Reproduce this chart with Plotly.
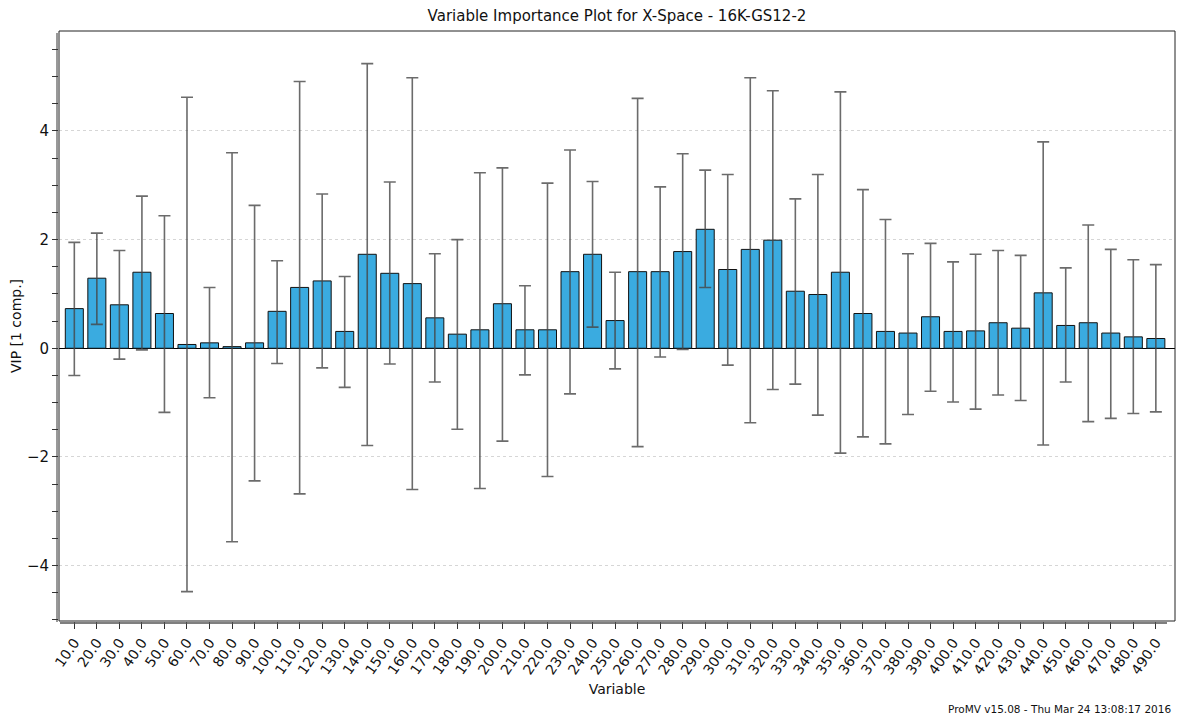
import plotly.graph_objects as go

variables = ["%d.0" % v for v in range(10, 500, 10)]
vip = [0.73, 1.29, 0.80, 1.40, 0.64, 0.07, 0.10, 0.03, 0.10, 0.68,
       1.12, 1.24, 0.31, 1.73, 1.38, 1.19, 0.56, 0.26, 0.34, 0.82,
       0.34, 0.34, 1.41, 1.73, 0.51, 1.41, 1.41, 1.78, 2.19, 1.45,
       1.82, 1.99, 1.05, 0.99, 1.40, 0.64, 0.31, 0.28, 0.58, 0.31,
       0.32, 0.47, 0.37, 1.02, 0.42, 0.47, 0.28, 0.21, 0.18]
upper = [1.95, 2.12, 1.80, 2.80, 2.44, 4.62, 1.12, 3.60, 2.63, 1.61,
         4.91, 2.84, 1.32, 5.24, 3.06, 4.98, 1.74, 2.00, 3.23, 3.32,
         1.15, 3.04, 3.65, 3.07, 1.40, 4.60, 2.97, 3.58, 3.28, 3.20,
         4.98, 4.74, 2.75, 3.20, 4.72, 2.92, 2.37, 1.74, 1.93, 1.59,
         1.73, 1.80, 1.71, 3.80, 1.48, 2.27, 1.82, 1.63, 1.54]
lower = [-0.50, 0.44, -0.20, -0.03, -1.18, -4.48, -0.91, -3.56, -2.44, -0.28,
         -2.68, -0.36, -0.72, -1.79, -0.29, -2.60, -0.62, -1.49, -2.58, -1.71,
         -0.49, -2.36, -0.84, 0.39, -0.38, -1.81, -0.16, -0.02, 1.12, -0.31,
         -1.37, -0.76, -0.66, -1.23, -1.93, -1.63, -1.76, -1.22, -0.79, -0.99,
         -1.12, -0.86, -0.96, -1.78, -0.62, -1.35, -1.29, -1.20, -1.17]

title = "Variable Importance Plot for X-Space - 16K-GS12-2"
footer = "ProMV v15.08 - Thu Mar 24 13:08:17 2016"

err_plus = [u - v for u, v in zip(upper, vip)]
err_minus = [v - l for v, l in zip(vip, lower)]

FONT = "DejaVu Sans"
W, H = 1181, 717
L, R, T, B = 59, 6, 31, 96
pw, ph = W - L - R, H - T - B

fig = go.Figure()
fig.add_trace(go.Bar(
    x=variables, y=vip, width=0.8,
    marker=dict(color="#3AABE0", line=dict(color="#111111", width=1)),
    error_y=dict(type="data", symmetric=False, array=err_plus, arrayminus=err_minus,
                 color="rgba(70,70,70,0.8)", thickness=1.6, width=6),
    showlegend=False,
))

fig.update_layout(
    width=W, height=H,
    margin=dict(l=L, r=R, t=T, b=B),
    paper_bgcolor="white", plot_bgcolor="white",
    font=dict(family=FONT, size=14, color="#111111"),
    title=dict(text=title, x=(L + pw / 2) / W, xanchor="center", y=1 - 16 / H, yanchor="middle",
               font=dict(family=FONT, size=15, color="#111111")),
    bargap=0.2,
)
fig.update_xaxes(
    type="category", range=[-0.68, 48.85],
    tickangle=-55, ticks="outside", ticklen=7, tickcolor="#333333",
    tickfont=dict(family=FONT, size=14),
    showgrid=False, showline=False, zeroline=False,
    title=dict(text="Variable", font=dict(family=FONT, size=14), standoff=7),
)
fig.update_yaxes(
    range=[-5.02, 5.84], dtick=2, tick0=0,
    ticks="outside", ticklen=6, tickcolor="#333333",
    tickfont=dict(family=FONT, size=15),
    minor=dict(dtick=0.5, ticks="outside", ticklen=6, tickcolor="#333333", showgrid=False),
    showgrid=True, gridcolor="#d6d6d6", griddash="dot", gridwidth=1,
    zeroline=True, zerolinecolor="#000000", zerolinewidth=1,
    showline=False,
    title=dict(text="VIP [1 comp.]", font=dict(family=FONT, size=14), standoff=1),
)

# plot frame
fig.add_shape(type="rect", xref="paper", yref="paper", x0=0, x1=1, y0=0, y1=1,
              line=dict(color="#222222", width=1), layer="above")
# separate axis lines
fig.add_shape(type="line", xref="paper", yref="paper",
              x0=-2 / pw, x1=-2 / pw, y0=-1 / ph, y1=1 - 2 / ph,
              line=dict(color="#333333", width=1))
fig.add_shape(type="line", xref="paper", yref="paper",
              x0=1 / pw, x1=(1167 - L) / pw, y0=-2 / ph, y1=-2 / ph,
              line=dict(color="#555555", width=1.5))

fig.add_annotation(text=footer, xref="paper", yref="paper",
                   x=(1173 - L) / pw, y=-(709 - (T + ph)) / ph,
                   xanchor="right", yanchor="middle", showarrow=False,
                   font=dict(family=FONT, size=10.5, color="#111111"))

fig.write_html("out.html")
